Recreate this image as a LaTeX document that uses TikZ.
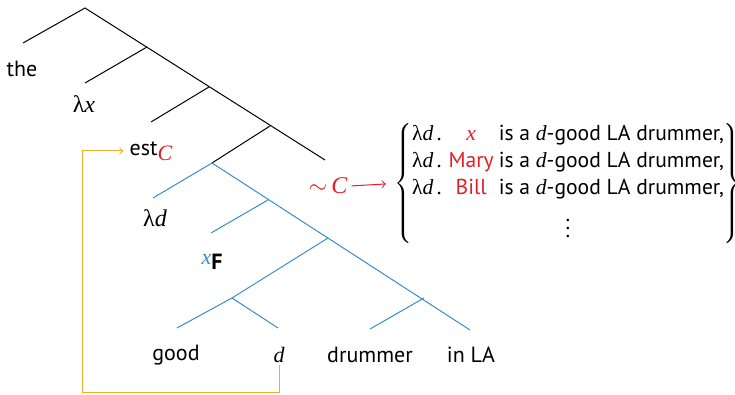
\documentclass[tikz,border=0pt]{standalone}
\usepackage{fontspec}
\setmainfont{PT Sans}
\newfontfamily\gk{Liberation Serif}
\usetikzlibrary{calc}
\definecolor{tblue}{RGB}{55,140,205}
\definecolor{tred}{RGB}{228,30,36}
\definecolor{torange}{RGB}{240,175,40}
\newcommand{\mi}[1]{{\gk\itshape #1}}
\newcommand{\lam}{{\gk λ}}
\begin{document}
\begin{tikzpicture}[x=0.5pt,y=-0.5pt,font=\fontsize{11}{13.5}\selectfont,
  blk/.style={line width=0.5pt,black},
  blu/.style={line width=0.5pt,tblue},
  lbl/.style={inner sep=1pt}]
\useasboundingbox (0,0) rectangle (735,395);
% black part
\coordinate (R) at (85,8);
\coordinate (T) at (23,43);
\coordinate (B1) at (147,47);
\coordinate (L1) at (85,83);
\coordinate (B2) at (209,87);
\coordinate (L2) at (151,122);
\coordinate (B3) at (270,126);
\coordinate (S) at (325,160);
\coordinate (B4) at (212,163);
% blue part
\coordinate (L4) at (153,198);
\coordinate (B5) at (268,200);
\coordinate (L5) at (211,233);
\coordinate (B6) at (328,238);
\coordinate (B7) at (232,298);
\coordinate (G) at (177,328);
\coordinate (D) at (278,328);
\coordinate (B8) at (424,298);
\coordinate (Dr) at (370,329);
\coordinate (IL) at (470,330);
\draw[blk] (T) -- (R) -- (S);
\draw[blk] (B1) -- (L1);
\draw[blk] (B2) -- (L2);
\draw[blk] (B3) -- (B4);
\draw[blu] (L4) -- (B4) -- (IL);
\draw[blu] (B5) -- (L5);
\draw[blu] (B6) -- (B7) -- (G);
\draw[blu] (B7) -- (D);
\draw[blu] (B8) -- (Dr);
% labels
\node[lbl] (the) at (22,69) {the};
\node[lbl] (lx) at (84,104) {\fontsize{12}{14}\selectfont\lam\mi{x}};
\node[lbl] (est) at (151,151) {est\raisebox{-0.45ex}{\color{tred}\mi{C}}};
\node[lbl] (ld) at (155,218) {\fontsize{12}{14}\selectfont\lam\mi{d}};
\node[lbl] (xf) at (212,262) {\textcolor{tblue}{\mi{x}}\raisebox{-0.45ex}{\bfseries F}};
\node[lbl] (good) at (176,355) {good};
\node[lbl] (dw) at (279,355) {\mi{d}};
\node[lbl] (drum) at (370,355) {drummer};
\node[lbl] (inla) at (471,355) {in LA};
\node[lbl,text=tred] (tc) at (328,186) {\fontsize{12}{14}\selectfont$\sim$\,\mi{C}};
\node[inner sep=0pt,font=\fontsize{10.8}{13.5}\selectfont] (set) at (568,183.5) {$\left\{\begin{tabular}{@{}l@{\hspace{3.5pt}}c@{\hspace{2.5pt}}l@{}}
\lam\mi{d}\,. & \textcolor{tred}{\mi{x}} & is a \mi{d}-good LA drummer,\\
\lam\mi{d}\,. & \textcolor{tred}{Mary} & is a \mi{d}-good LA drummer,\\
\lam\mi{d}\,. & \textcolor{tred}{Bill} & is a \mi{d}-good LA drummer,\\[2pt]
\multicolumn{3}{c}{$\vdots$}
\end{tabular}\right\}$};
% connectors
\draw[tred,line width=0.5pt,->,shorten >=4pt,shorten <=1pt] (tc.east) -- (set.west);
\coordinate (o1) at (82,393);
\draw[torange,line width=0.5pt,->,shorten >=2pt] (dw.south) |- (o1) |- (est.west);
\end{tikzpicture}
\end{document}
